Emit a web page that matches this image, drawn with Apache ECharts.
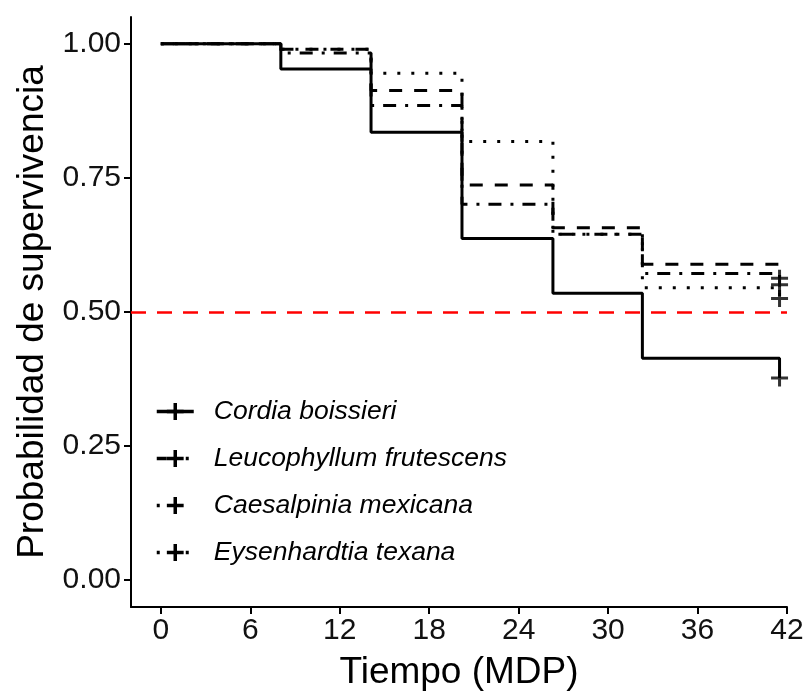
<!DOCTYPE html>
<html>
<head>
<meta charset="utf-8">
<script src="https://cdn.jsdelivr.net/npm/echarts@6/dist/echarts.min.js"></script>
<style>
html,body{margin:0;padding:0;background:#fff;}
#chart{width:806px;height:694px;}
</style>
</head>
<body>
<div id="chart"></div>
<script>
// ---- data ----
const species = ["Cordia boissieri", "Leucophyllum frutescens", "Caesalpinia mexicana", "Eysenhardtia texana"];
const times = [0, 8.05, 14.1, 20.2, 26.3, 32.3, 41.5];
const cordia = [1.00, 0.953, 0.835, 0.637, 0.535, 0.414, 0.377];
const leucophyllum = [1.00, 0.990, 0.913, 0.737, 0.657, 0.589, 0.563];
const caesalpinia = [1.00, 0.990, 0.945, 0.818, 0.645, 0.545, 0.525];
const eysenhardtia = [1.00, 0.983, 0.885, 0.701, 0.645, 0.572, 0.551];
const censorTime = 41.5;
const xTicks = [0, 6, 12, 18, 24, 30, 36, 42];
const yTicks = [0, 0.25, 0.5, 0.75, 1];
const refLine = 0.5;

const seriesValues = [cordia, leucophyllum, caesalpinia, eysenhardtia];
const dashTypes = ['solid', [13, 12], [3, 11], [3, 9, 13, 9]];
const legendDash = ['solid', [10, 19, 3, 20], [3, 60], [3, 26, 3, 20]];
const crossPath = 'path://M5,0L5,10M0,5L10,5';
const FONT = "'Liberation Sans', Arial, sans-serif";

const series = [];
seriesValues.forEach((vals, i) => {
  series.push({
    name: species[i],
    type: 'line',
    step: 'end',
    data: times.map((t, k) => [t, vals[k]]),
    symbol: crossPath,
    symbolSize: 16,
    showSymbol: false,
    silent: true,
    z: 10 - i,
    lineStyle: { color: '#000', width: 3, type: dashTypes[i], cap: 'butt' },
    itemStyle: { color: 'none', borderColor: '#000', borderWidth: 3 },
    emphasis: { disabled: true },
    markLine: i === 0 ? {
      silent: true,
      symbol: 'none',
      label: { show: false },
      lineStyle: { color: '#ff0000', width: 2.5, type: [15, 11] },
      data: [{ yAxis: refLine }]
    } : undefined
  });
});
// censoring marks at the last time
series.push({
  name: 'censor',
  type: 'scatter',
  silent: true,
  symbol: crossPath,
  symbolSize: [17, 17],
  itemStyle: { color: 'none', borderColor: '#000', borderWidth: 3 },
  data: seriesValues.map(v => [censorTime, v[v.length - 1]]),
  z: 20
});

const chart = echarts.init(document.getElementById('chart'), null, { renderer: 'canvas' });
chart.setOption({
  animation: false,
  backgroundColor: '#fff',
  textStyle: { fontFamily: FONT },
  grid: { left: 131, right: 19, top: 17, bottom: 87, containLabel: false, outerBoundsMode: 'none' },
  legend: {
    data: species.map((s, i) => ({
      name: s,
      lineStyle: { color: '#000', width: 3.5, type: legendDash[i], cap: 'butt' },
      itemStyle: { color: 'none', borderColor: '#000', borderWidth: 3.5 }
    })),
    orient: 'vertical',
    left: 155,
    top: 398,
    padding: 0,
    itemWidth: 37,
    itemHeight: 21,
    itemGap: 20,
    selectedMode: false,
    textStyle: { fontFamily: FONT, fontStyle: 'italic', fontSize: 26.5, color: '#000', lineHeight: 26, padding: [0, 0, 0, 15] }
  },
  xAxis: {
    type: 'value',
    min: -2,
    max: 42,
    name: 'Tiempo (MDP)',
    nameLocation: 'middle',
    nameGap: 47,
    nameTextStyle: { fontFamily: FONT, fontSize: 37, color: '#000' },
    axisLine: { show: true, onZero: false, lineStyle: { color: '#000', width: 2 } },
    axisTick: { show: true, length: 7, customValues: xTicks, lineStyle: { color: '#000', width: 2 } },
    axisLabel: { customValues: xTicks, margin: 9, fontFamily: FONT, fontSize: 30, color: '#111' },
    splitLine: { show: false }
  },
  yAxis: {
    type: 'value',
    min: -0.05,
    max: 1.05,
    name: 'Probabilidad de supervivencia',
    nameLocation: 'middle',
    nameGap: 78,
    nameTextStyle: { fontFamily: FONT, fontSize: 37, color: '#000' },
    axisLine: { show: true, onZero: false, lineStyle: { color: '#000', width: 2 } },
    axisTick: { show: true, length: 7, customValues: yTicks, lineStyle: { color: '#000', width: 2 } },
    axisLabel: { customValues: yTicks, margin: 10, fontFamily: FONT, fontSize: 30, color: '#111',
      formatter: v => v.toFixed(2) },
    splitLine: { show: false }
  },
  series: series
});
</script>
</body>
</html>
